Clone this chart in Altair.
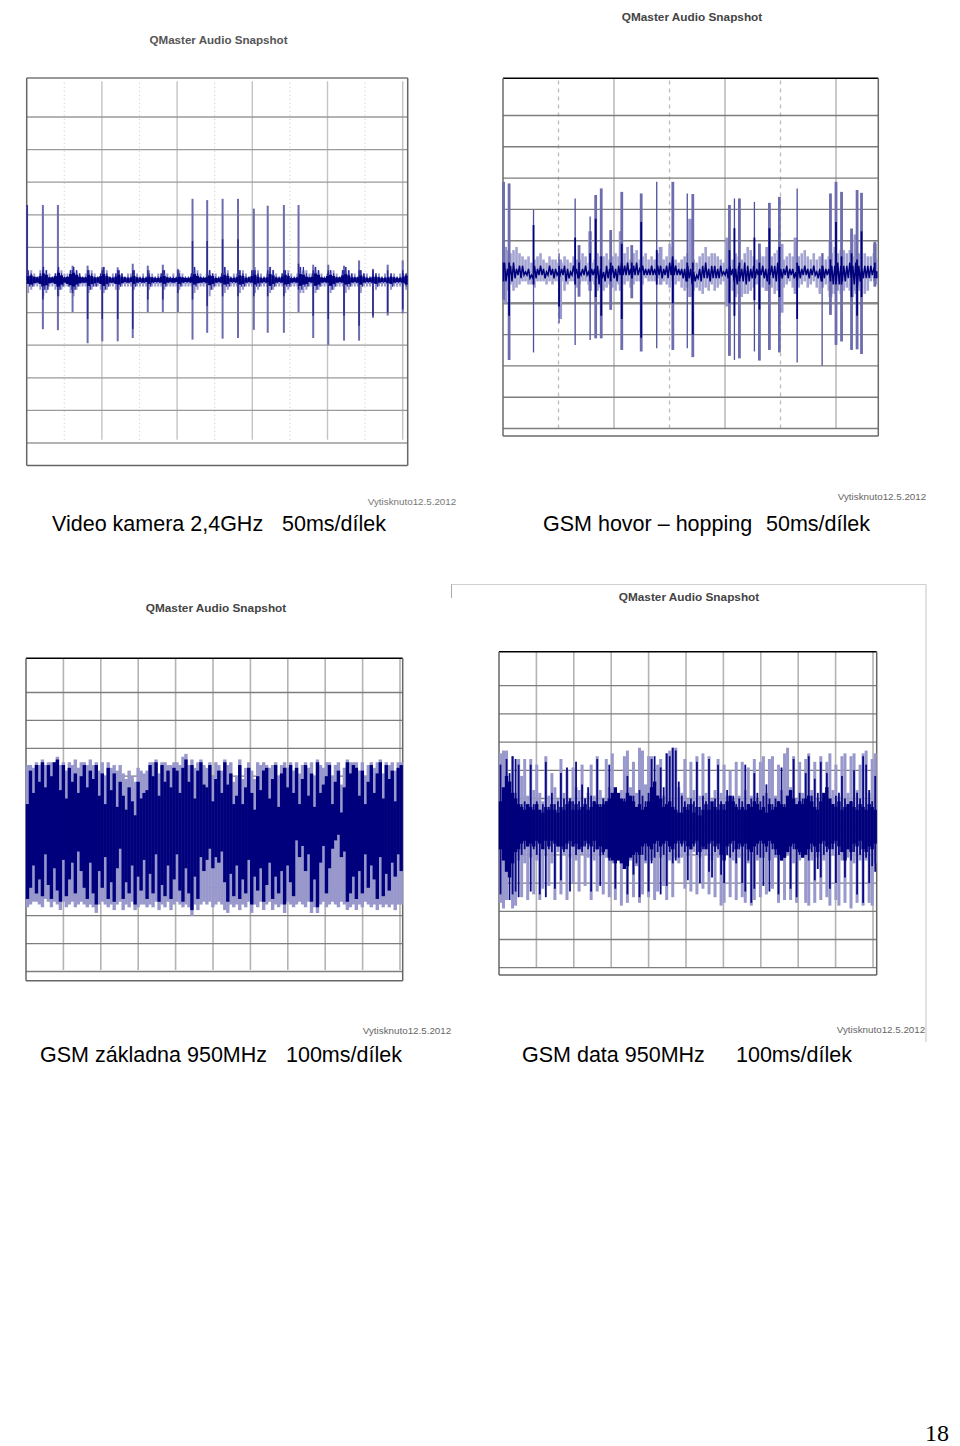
import altair as alt
import pandas as pd

GRID_H = "#8c8c8c"
GRID_V = "#c4c4c4"
LIGHT = "#9898cc"
MID = "#6c6cae"
DARK = "#00007c"

# ---------- Panel A: Video kamera ----------
A_spike_t = [0.01,0.43,0.83,1.22,1.62,2.01,2.42,2.82,3.22,3.62,4.02,4.41,4.80,5.21,5.62,6.04,6.41,6.84,7.23,7.62,8.02,8.44,8.84,9.21,9.60,10.0]
A_spike_hi = [23,23,23,4.4,4.4,3.9,3.9,5,4.4,4.7,3.4,24.9,24.5,24.9,24.9,21.9,22.8,23,23,4.7,4.7,4.4,6,3.4,4.7,6]
A_spike_lo = [0,-15.1,-15.4,-9.8,-19.4,-18.8,-18.8,-17.8,-9.8,-9.8,-9.8,-18.3,-16.2,-18,-17.8,-15.3,-16.2,-16.2,-9.8,-17.8,-19.9,-18.6,-18.6,-11.6,-10.9,-10.2]
A_core_hi = [23,3,3,3,3,3,3,3,3,3,3,12,12,12.5,12.5,3,3,3,5,3,3,3,3,3,3,3]
A_core_lo = [0,-6,-5,-4,-12,-12,-12,-15,-6,-6,-4,-6,-8,-5,-5,-5,-5,-5,-3,-11,-12,-11,-14,-11,-10,-9]
A_band_hi = [1.2,1.4,1.0,0.8,1.2,2.0,1.6,0.8,0.8,1.2,2.2,1.4,0.8,1.0,1.8,2.2,1.6,1.0,0.8,0.8,1.6,1.2,0.8,0.8,1.2,1.8,1.2,0.8,0.6,1.0,1.6,1.0,0.8,0.6,0.8,1.2,0.8,0.6,0.6,0.6,1.0,0.8,0.6,0.6,1.0,1.2,0.8,0.6,0.6,0.6,1.0,0.8,0.6,0.6,1.0,1.8,1.2,0.8,0.6,0.8,1.4,1.2,0.6,0.6,1.0,1.6,1.2,0.6,0.6,0.8,1.4,1.2,0.6,0.8,1.2,1.6,1.0,0.6,0.6,0.8,1.8,1.4,0.8,0.6,1.0,1.6,1.2,0.6,0.6,0.8,1.8,1.6,1.0,0.8,1.0,2.0,1.6,0.8,0.6,1.2,1.6,1.2,0.8,0.8,1.4,1.8,1.4,0.8,0.8,0.8,1.4,1.0,0.6,0.6,1.0,1.0,0.8,0.6,0.6,0.8,1.0,0.8,0.6,0.6,1.0,1.4]
A_band_lo = [-1.2,-1.4,-1.0,-0.8,-1.2,-1.8,-1.6,-1.0,-0.8,-1.2,-2.0,-1.4,-0.8,-1.2,-1.6,-2.0,-1.4,-1.0,-0.8,-0.8,-1.8,-1.2,-1.0,-0.8,-1.2,-1.8,-1.2,-0.8,-0.8,-1.2,-1.4,-1.0,-0.6,-0.8,-0.6,-1.2,-0.8,-0.6,-0.8,-0.6,-1.2,-0.8,-0.6,-0.6,-0.8,-1.2,-0.8,-0.6,-0.8,-0.6,-1.2,-0.8,-0.6,-0.6,-0.8,-1.4,-1.0,-0.8,-0.6,-0.8,-1.6,-1.2,-0.8,-0.6,-0.8,-1.4,-1.2,-0.6,-0.6,-0.8,-1.4,-1.2,-0.8,-0.6,-0.8,-1.4,-1.0,-0.8,-0.6,-0.8,-1.8,-1.2,-0.8,-0.6,-0.8,-1.4,-1.2,-0.8,-0.6,-0.8,-1.8,-1.4,-1.2,-0.6,-0.8,-1.8,-1.4,-0.8,-0.6,-0.8,-1.8,-1.2,-0.8,-0.6,-0.8,-1.4,-1.2,-0.8,-0.6,-0.8,-1.4,-0.8,-0.6,-0.6,-0.8,-1.2,-0.8,-0.6,-0.6,-0.8,-1.2,-0.8,-0.6,-0.6,-0.8,-1.4]
A_dark_hi = [3,2,1,1,2,4,3,1,1,2,4,2,1,1,3,4,3,2,1,1,3,2,1,1,2,4,2,1,1,2,3,2,1,1,1,3,1,1,1,1,2,1,1,1,2,3,1,1,1,1,2,1,1,1,2,4,2,1,1,1,3,2,1,1,2,4,2,1,1,1,3,2,1,1,3,3,2,1,1,1,4,3,1,1,2,3,2,1,1,1,4,4,2,1,2,4,3,1,1,2,3,2,1,1,3,4,3,2,1,1,3,2,1,1,2,2,1,1,1,1,2,1,1,1,2,2]
A_dark_lo = [-2,-2,-1,-1,-2,-3,-3,-1,-1,-2,-3,-2,-1,-2,-3,-3,-2,-1,-1,-1,-3,-2,-2,-1,-2,-3,-2,-1,-1,-2,-2,-1,-1,-1,-1,-2,-1,-1,-1,-1,-2,-1,-1,-1,-1,-2,-1,-1,-1,-1,-2,-1,-1,-1,-1,-2,-1,-1,-1,-1,-3,-2,-1,-1,-1,-2,-2,-1,-1,-1,-2,-2,-1,-1,-1,-2,-2,-1,-1,-1,-3,-2,-1,-1,-1,-2,-2,-1,-1,-1,-3,-2,-2,-1,-1,-3,-2,-1,-1,-1,-3,-2,-1,-1,-1,-2,-2,-1,-1,-1,-2,-1,-1,-1,-1,-2,-1,-1,-1,-1,-2,-1,-1,-1,-1,-2]
A_light_hi = [3,3,2,1,3,4,3,2,1,2,4,3,2,2,3,4,3,2,1,2,3,3,2,1,2,4,3,1,2,2,3,2,1,2,2,3,2,1,2,1,3,2,1,2,2,3,2,1,2,1,3,2,1,1,2,4,3,2,1,2,3,2,2,1,2,4,3,1,2,2,3,3,2,1,3,4,3,2,1,2,4,3,2,1,2,3,3,2,1,2,4,3,3,2,2,4,3,2,1,2,3,3,2,1,3,4,3,2,2,1,3,2,2,1,2,2,2,1,2,1,2,2,1,2,2,2]
A_light_lo = [-4,-3,-2,-2,-3,-5,-4,-2,-2,-3,-5,-3,-2,-2,-4,-5,-3,-2,-2,-2,-4,-3,-2,-2,-3,-4,-3,-2,-2,-3,-3,-2,-2,-2,-2,-3,-2,-2,-2,-2,-3,-2,-2,-2,-2,-3,-2,-2,-2,-2,-3,-2,-2,-2,-2,-4,-3,-2,-2,-2,-5,-3,-2,-2,-2,-4,-3,-2,-2,-2,-4,-3,-2,-2,-2,-4,-3,-2,-2,-2,-4,-3,-2,-2,-2,-4,-3,-2,-2,-2,-4,-4,-3,-2,-2,-4,-3,-2,-2,-2,-4,-3,-2,-2,-2,-4,-3,-2,-2,-2,-4,-2,-2,-2,-2,-3,-2,-2,-2,-2,-3,-2,-2,-2,-2,-3]

# ---------- Panel B: GSM hovor ----------
B_spike_t = [0.01,0.11,0.55,1.01,1.30,1.37,1.57,1.67,1.77,1.94,2.14,2.32,2.49,2.77,3.06,3.32,3.42,4.08,4.17,4.26,4.53,4.62,4.80,4.98,5.30,5.75,5.90,6.00,6.10,6.28,6.38,6.46,6.70]
B_spike_hi = [28.8,28.3,19.8,6,23.5,8.6,17.7,24.6,26.7,13.4,25.6,8.6,25.1,28.8,28.8,25.1,24.9,21.4,23.5,23.5,22.4,9.1,22.1,24,26.7,6,25.1,28.8,25.6,13.9,26.2,25.3,9.7]
B_spike_lo = [-8.9,-28.1,-25.7,-16.4,-23.3,-7.9,-21.7,-21.2,-21.2,-12.1,-24.9,-8.4,-25.4,-24.4,-24.9,-24.4,-27.2,-26.8,-28.1,-27.6,-25.4,-28.3,-24.9,-25.7,-28.9,-29.9,-13.7,-23.3,-22.2,-24.9,-24.7,-26.2,-4.7]
B_spike_wide = [1,1,0,0,0,1,0,1,1,1,1,1,1,0,1,0,1,1,0,1,0,1,1,1,0,0,1,1,1,1,1,1,1]
B_core_hi = [3,3,15,2,11,3,6,17,5,3,9,3,16,7,2,3,3,7,14,3,11,3,14,8,3,2,4,16,5,6,4,13,3]
B_core_lo = [-3,-14,-4,-11,-4,-2,-3,-8,-14,-3,-15,-2,-21,-4,-10,-3,-20,-10,-14,-3,-9,-12,-4,-8,-15,-3,-3,-4,-4,-8,-14,-8,-2]
B_burst_t = [0.04,1.03,1.57,2.12,2.84,3.37,4.04,4.76,5.02,5.27,5.90,6.35,6.70]
B_burst_hi = [8,4,13,13,8,17,11,8,9,11,10,12,9]
B_burst_lo = [-10,-15,-6,-6,-4,-8,-11,-6,-13,-7,-8,-6,-3]
B_light_hi = [8,7,6,7,8,6,5,4,5,3, 4,5,6,4,3,5,4,4,3,3, 5,4,3,5,4,4,6,5,3,3, 4,6,5,5,6,4,5,6,5,7, 6,8,4,6,7,4,5,6,4,5, 4,6,5,4,5,9,8,4,3,4, 5,6,5,4,3,5,6,8,5,6, 6,5,4,3,5,6,4,6,5,4, 6,8,7,5,4,6,5,5,4,5, 6,7,6,4,5,6,5,4,5,6, 7,5,4,6,4,5,6,4,5,6, 8,6,7,7,6,7,5,6,6,5, 6,5,5,6,4]
B_light_lo = [-7,-6,-4,-6,-5,-4,-3,-3,-4,-4, -5,-3,-3,-3,-4,-3,-4,-3,-3,-3, -6,-4,-3,-3,-5,-4,-3,-3,-4,-3, -4,-6,-5,-6,-5,-4,-5,-6,-4,-3, -4,-3,-5,-4,-3,-3,-4,-2,-3,-3, -3,-2,-4,-3,-4,-5,-3,-4,-3,-5, -6,-5,-7,-6,-5,-6,-7,-5,-6,-4, -6,-5,-4,-3,-4,-5,-6,-8,-7,-8, -7,-7,-6,-5,-4,-3,-5,-6,-4,-5, -7,-6,-6,-5,-4,-3,-5,-6,-5,-4, -3,-5,-4,-3,-5,-7,-5,-4,-6,-7, -7,-6,-7,-6,-5,-6,-8,-7,-6,-5, -7,-6,-3,-2,-4]
B_dark_hi = [3,1,2,3,1,2,2,0,1,-1, 2,1,2,1,0,2,1,1,0,1, 2,1,0,2,1,0,1,2,0,1, 1,2,1,0,2,1,2,1,2,3, 2,3,1,2,3,1,2,1,1,2, 1,2,2,1,2,3,5,2,1,1, 1,2,1,0,-1,1,2,3,1,2, 2,1,2,0,1,2,1,1,2,1, 3,2,1,2,1,1,2,1,1,2, 2,3,1,1,2,1,1,0,2,1, 2,1,1,2,0,1,2,1,1,2, 2,3,2,2,2,3,2,3,2,1, 2,2,2,1,0]
B_dark_lo = [-3,-2,-3,-2,-1,-2,-1,-1,-2,-2, -2,-1,-1,-2,-1,-1,-2,-1,-1,-1, -3,-2,-1,-1,-2,-1,-1,-1,-2,-1, -2,-4,-2,-3,-2,-1,-2,-3,-1,-1, -1,-1,-2,-1,-1,0,-1,-1,-1,-1, -1,-1,-2,-1,-2,-1,-1,-1,-1,-2, -3,-2,-4,-3,-2,-3,-2,-2,-3,-2, -2,-2,-1,-1,-2,-1,-3,-4,-2,-3, -4,-3,-2,-2,-1,-1,-2,-3,-1,-2, -3,-3,-2,-1,-2,-1,-2,-3,-2,-1, -1,-2,-1,-1,-2,-3,-2,-1,-2,-4, -3,-4,-3,-3,-2,-2,-4,-5,-3,-2, -2,-2,-1,0,-2]

# ---------- Panel C: GSM zakladna ----------
C_dark_hi = [10,22,14,24,18,25,16,24,20,25, 26,15,24,12,23,18,21,14,20,24, 16,22,19,24,13,21,10,23,15,21, 9,18,13,8,16,11,6,18,12,14, 15,24,20,25,13,24,18,22,16,23, 22,14,23,26,18,24,12,22,25,17, 16,24,11,19,22,14,25,17,21,10, 13,24,10,16,23,14,8,20,15,22, 23,12,19,24,9,21,23,16,24,14, 23,10,19,24,13,21,9,25,14,17, 20,24,10,18,22,7,16,25,21,24, 23,13,22,10,18,24,14,21,25,12, 24,19,22,11,23,24]
C_light_hi = [24,24,23,25,24,26,24,25,25,25, 27,24,25,22,25,24,26,23,25,25, 24,26,24,25,22,25,20,25,23,24, 22,24,21,19,22,20,18,23,22,21, 22,25,25,26,21,25,25,24,24,25, 25,24,27,28,24,26,23,25,26,24, 23,25,20,25,24,22,26,24,25,18, 20,26,19,23,25,22,19,25,24,25, 24,23,24,25,20,24,25,23,25,22, 25,21,24,25,23,25,20,26,24,23, 25,25,20,24,25,17,23,26,25,25, 25,22,25,20,24,25,23,25,26,21, 25,24,25,22,25,25]
C_dark_lo = [-24,-20,-12,-22,-17,-23,-8,-19,-24,-13, -21,-25,-10,-23,-17,-11,-22,-7,-14,-20, -24,-11,-22,-26,-14,-20,-9,-24,-18,-25, -13,-6,-24,-18,-22,-12,-26,-16,-21,-10, -24,-15,-22,-8,-25,-19,-23,-12,-24,-17, -8,-21,-25,-13,-22,-28,-16,-24,-9,-14, -10,-6,-13,-9,-11,-7,-18,-25,-15,-23, -12,-24,-17,-22,-10,-26,-16,-21,-13,-25, -19,-11,-24,-16,-22,-14,-26,-12,-18,-23, -3,-9,-5,-14,-8,-25,-17,-27,-11,-5, -22,-13,-6,-3,-1,-9,-7,-25,-22,-16, -24,-14,-22,-8,-20,-12,-17,-24,-9,-23, -15,-21,-11,-16,-8,-14]
C_light_lo = [-27,-26,-25,-25,-26,-27,-24,-25,-27,-25, -26,-28,-25,-27,-26,-25,-27,-26,-25,-26, -27,-26,-27,-29,-26,-25,-26,-27,-26,-28, -26,-25,-28,-26,-27,-25,-28,-27,-26,-26, -27,-26,-27,-25,-28,-26,-27,-25,-28,-26, -25,-26,-27,-26,-27,-30,-26,-28,-26,-25, -26,-25,-27,-26,-25,-26,-28,-29,-26,-27, -26,-28,-26,-27,-25,-29,-26,-27,-25,-28, -26,-25,-28,-26,-27,-26,-29,-25,-26,-27, -26,-25,-26,-27,-25,-29,-27,-29,-26,-25, -27,-26,-25,-26,-27,-25,-26,-28,-27,-26, -28,-26,-27,-25,-26,-27,-26,-28,-26,-27, -26,-27,-26,-28,-26,-26]

# ---------- Panel D: GSM data ----------
D_dark_hi = [22,7,24,19,25,24,22,8,9,7, 22,8,9,6,8,23,7,12,8,9, 19,10,21,10,9,23,9,15,10,14, 11,9,24,8,10,9,22,10,11,8, 9,10,18,8,11,7,13,11,9,12, 24,25,11,21,14,26,25,28,27,16, 11,9,8,10,9,23,7,11,9,24, 8,10,22,9,8,13,9,11,8,10, 9,22,8,10,19,12,9,11,15,10, 8,10,9,21,8,10,9,24,8,12, 10,19,25,11,17,12,23,10,19,9, 8,11,12,18,10,8,9,20,12,10, 25,22,13,9,18]
D_light_hi = [26,27,27,16,25,12,24,18,24,11, 24,13,22,12,9,25,11,19,14,10, 24,12,20,10,21,14,13,22,10,12, 22,11,25,13,10,24,14,26,12,10, 13,25,27,14,23,12,28,27,15,25, 25,13,22,24,11,26,27,28,28,14, 12,24,10,23,13,25,11,26,12,25, 10,13,24,12,22,11,20,10,23,11, 23,13,21,11,24,10,23,25,12,24, 25,11,22,13,26,28,14,25,10,23, 12,24,26,13,23,10,25,12,23,26, 13,22,11,25,26,12,25,26,13,22, 26,27,12,24,26]
D_dark_lo = [-24,-9,-7,-26,-24,-23,-25,-10,-8,-7, -23,-8,-10,-24,-7,-25,-8,-9,-22,-7, -19,-9,-8,-23,-7,-10,-8,-9,-7,-8, -23,-9,-8,-21,-10,-7,-12,-9,-22,-8, -10,-11,-24,-9,-17,-13,-25,-10,-12,-23, -13,-11,-9,-24,-10,-21,-9,-13,-12,-11, -7,-9,-19,-8,-7,-10,-20,-8,-7,-16, -18,-9,-8,-17,-20,-10,-11,-9,-13,-8, -20,-23,-12,-27,-22,-10,-11,-21,-9,-23, -8,-10,-24,-8,-11,-9,-22,-8,-25,-10, -9,-8,-12,-9,-19,-15,-18,-10,-9,-22, -8,-20,-10,-9,-18,-8,-12,-9,-24,-10, -27,-11,-20,-14,-16]
D_light_lo = [-27,-29,-26,-13,-29,-28,-12,-25,-13,-26, -11,-24,-12,-26,-22,-10,-21,-13,-26,-9, -24,-10,-26,-11,-20,-12,-23,-10,-21,-11, -26,-12,-23,-10,-24,-11,-25,-13,-26,-12, -28,-13,-27,-12,-25,-14,-27,-24,-13,-25, -12,-26,-23,-11,-21,-26,-12,-25,-11,-13, -11,-22,-10,-23,-9,-24,-11,-22,-10,-24, -12,-25,-11,-28,-27,-10,-25,-12,-26,-11, -25,-27,-13,-28,-26,-12,-25,-11,-24,-12, -22,-11,-27,-12,-26,-10,-26,-13,-27,-12, -11,-27,-28,-12,-27,-11,-26,-12,-25,-28, -10,-26,-28,-12,-27,-11,-29,-13,-27,-12, -28,-12,-27,-28,-13]
D_core_hi = [9,14,18,16,12,10,8,7,6,8, 7,6,8,6,5,7,6,8,6,5, 7,6,8,9,6,8,6,7,8,6, 7,9,8,7,8,9,10,12,14,12, 10,9,12,11,9,7,8,6,7,9, 14,16,11,10,7,8,9,7,6,5, 5,7,6,8,5,7,4,6,8,6, 9,7,6,8,6,9,11,9,7,6, 7,6,8,7,9,8,6,7,5,8, 6,7,9,8,7,11,13,10,8,9, 8,10,11,9,7,6,9,12,14,10, 8,7,9,6,7,8,9,7,6,8, 7,6,8,7,6]
D_core_lo = [-8,-12,-16,-18,-13,-9,-8,-6,-5,-7, -6,-7,-5,-6,-8,-5,-7,-5,-6,-7, -7,-8,-6,-5,-7,-6,-8,-7,-5,-6, -7,-5,-8,-7,-9,-8,-11,-12,-13,-12, -13,-15,-14,-11,-10,-9,-10,-7,-6,-7, -8,-6,-5,-7,-6,-5,-7,-8,-6,-5, -6,-5,-7,-8,-6,-5,-9,-7,-8,-6, -5,-7,-6,-10,-12,-7,-6,-5,-8,-6, -7,-6,-8,-9,-7,-6,-5,-6,-7,-5, -6,-8,-10,-12,-11,-9,-7,-6,-8,-9, -11,-10,-8,-6,-7,-9,-6,-5,-7,-8, -6,-5,-7,-9,-12,-8,-9,-6,-7,-5, -8,-9,-7,-8,-6]

# ---------- grids, in divisions ----------
H_A = [5,4,3,2,1,0,-1,-2,-3,-4,-5]
H_B = [5,4,3,2,1,0,-1,-2,-3,-4,-5]
H_C = [5,4,3,2,1,0,-1,-2,-3,-4,-5]
H_D = [5,4,3,2,1,0,-1,-2,-3,-4,-5]
V_A_SOLID = [2,4,6,8,10]
V_A_DOT = [1,3,5,7,9]
V_B_SOLID = [2,4,6]
V_B_DOT = [1,3,5]
V_C_SOLID = [1,2,3,4,5,6,7,8,9,10]
V_D_SOLID = [1,2,3,4,5,6,7,8,9,10]

CAPTIONS = ["Video kamera 2,4GHz", "50ms/dílek", "GSM hovor – hopping", "50ms/dílek",
            "GSM základna 950MHz", "100ms/dílek", "GSM data 950MHz", "100ms/dílek"]
TITLE = "QMaster Audio Snapshot"
PRINTED = "Vytisknuto12.5.2012"
PAGE = "18"

M = 8  # page margin
NARROW = "DejaVu Sans Condensed"


class Panel:
    def __init__(self, x0, x1, ytop, ybot, cy, dx, dy):
        self.x0, self.x1, self.ytop, self.ybot = x0, x1, ytop, ybot
        self.cy, self.dx, self.dy = cy, dx, dy

    def xs(self):
        return alt.Scale(domain=[0, (self.x1 - self.x0) / self.dx],
                         range=[self.x0 - M, self.x1 - M], nice=False, zero=False)

    def ys(self):
        return alt.Scale(domain=[(self.cy - self.ybot) / self.dy, (self.cy - self.ytop) / self.dy],
                         range=[self.ybot - M, self.ytop - M], nice=False, zero=False)

    def xi(self, n):
        return alt.Scale(domain=[0, n - 1], range=[self.x0 - M + 1.5, self.x1 - M - 1.5], nice=False, zero=False)

    def hrules(self, values, color, width, **kw):
        df = pd.DataFrame({"y": values, "a": 0.0, "b": (self.x1 - self.x0) / self.dx})
        return alt.Chart(df).mark_rule(color=color, strokeWidth=width, **kw).encode(
            x=alt.X("a:Q", scale=self.xs(), axis=None), x2="b:Q",
            y=alt.Y("y:Q", scale=self.ys(), axis=None))

    def vrules(self, values, color, width, lo, hi, **kw):
        df = pd.DataFrame({"x": values, "lo": lo, "hi": hi})
        return alt.Chart(df).mark_rule(color=color, strokeWidth=width, **kw).encode(
            x=alt.X("x:Q", scale=self.xs(), axis=None),
            y=alt.Y("lo:Q", scale=self.ys(), axis=None), y2="hi:Q")

    def columns(self, hi, lo, color, width):
        rows = [(i, h / 10, l / 10) for i, (h, l) in enumerate(zip(hi, lo))]
        df = pd.DataFrame(rows, columns=["i", "hi", "lo"])
        return alt.Chart(df).mark_rule(color=color, strokeWidth=width).encode(
            x=alt.X("i:Q", scale=self.xi(len(rows)), axis=None),
            y=alt.Y("lo:Q", scale=self.ys(), axis=None), y2="hi:Q")

    def zigzag(self, hi, lo, color, width):
        rows = []
        for i, (h, l) in enumerate(zip(hi, lo)):
            rows.append((i, h / 10, 2 * i))
            rows.append((min(i + 0.5, len(hi) - 1), l / 10, 2 * i + 1))
        df = pd.DataFrame(rows, columns=["i", "v", "o"])
        return alt.Chart(df).mark_line(color=color, strokeWidth=width).encode(
            x=alt.X("i:Q", scale=self.xi(len(hi)), axis=None),
            y=alt.Y("v:Q", scale=self.ys(), axis=None),
            order="o:Q")

    def spikes(self, t, hi, lo, color, width):
        df = pd.DataFrame({"t": t, "hi": [v / 10 for v in hi], "lo": [v / 10 for v in lo]})
        return alt.Chart(df).mark_rule(color=color, strokeWidth=width).encode(
            x=alt.X("t:Q", scale=self.xs(), axis=None),
            y=alt.Y("lo:Q", scale=self.ys(), axis=None), y2="hi:Q")

    def frame(self, top_color, color, width=1.5):
        h = (self.x1 - self.x0) / self.dx
        t = (self.cy - self.ytop) / self.dy
        b = (self.cy - self.ybot) / self.dy
        return [
            self.hrules([t], top_color, width),
            self.hrules([b], color, width),
            self.vrules([0], color, width, b, t),
            self.vrules([h], color, width, b, t),
        ]


def label(text, x, y, size, font="Liberation Sans", color="#000000", weight="normal", align="left"):
    return alt.Chart(pd.DataFrame({"a": [0]})).mark_text(
        text=text, font=font, fontSize=size, color=color, fontWeight=weight, align=align, baseline="alphabetic"
    ).encode(x=alt.value(x - M), y=alt.value(y - M))


layers = []

# Panel A
A = Panel(26.7, 407.7, 78, 465.5, 280, 37.6, 32.6)
layers += [
    A.vrules(V_A_SOLID, GRID_V, 1.4, -4.9, 6.1),
    A.vrules(V_A_DOT, "#cfcfcf", 1.2, -4.9, 6.1, strokeDash=[1, 3]),
    A.hrules(H_A, "#9a9a9a", 1.3),
]
layers += A.frame("#777777", "#666666")
layers += [
    A.columns(A_light_hi, A_light_lo, LIGHT, 2.0),
    A.spikes(A_spike_t, A_spike_hi, A_spike_lo, MID, 2.0),
    A.spikes(A_spike_t, A_core_hi, A_core_lo, "#2a2a8e", 1.5),
    A.zigzag(A_dark_hi, A_dark_lo, "#2222a0", 0.9),
    A.columns(A_band_hi, A_band_lo, DARK, 3.1),
]

# Panel B
B = Panel(503, 878.3, 78.3, 436, 272, 55.5, 31.3)
wide = [i for i, w in enumerate(B_spike_wide) if w]
thin = [i for i, w in enumerate(B_spike_wide) if not w]
pick = lambda arr, idx: [arr[i] for i in idx]
layers += [
    B.vrules(V_B_SOLID, GRID_V, 1.8, -5.0, 6.2),
    B.vrules(V_B_DOT, "#bdbdbd", 1.3, -5.0, 6.2, strokeDash=[4, 4]),
    B.hrules(H_B, "#7d7d7d", 1.4),
    B.hrules([-1], "#8a8a8a", 2.6),
]
layers += B.frame("#000000", "#6a6a6a")
layers += [
    B.columns(B_light_hi, B_light_lo, "#a4a4d2", 2.6),
    B.spikes(B_burst_t, B_burst_hi, B_burst_lo, LIGHT, 3.8),
    B.spikes(pick(B_spike_t, wide), pick(B_spike_hi, wide), pick(B_spike_lo, wide), MID, 2.8),
    B.spikes(pick(B_spike_t, thin), pick(B_spike_hi, thin), pick(B_spike_lo, thin), "#4f4f9e", 1.3),
    B.spikes(B_spike_t, B_core_hi, B_core_lo, DARK, 1.8),
    B.zigzag(B_dark_hi, B_dark_lo, DARK, 1.5),
]

# Panel C
C = Panel(26, 402.7, 658.3, 980.7, 832, 37.4, 27.9)
layers += [
    C.vrules(V_C_SOLID, "#b4b4b4", 1.6, -4.95, 6.2),
    C.hrules(H_C, "#7d7d7d", 1.3),
]
layers += C.frame("#000000", "#666666")
layers += [
    C.columns(C_light_hi, C_light_lo, LIGHT, 3.4),
    C.columns(C_dark_hi, C_dark_lo, DARK, 3.4),
]

# Panel D
D = Panel(499, 876.7, 651.7, 975, 826.7, 37.4, 28.2)
layers += [
    D.vrules(V_D_SOLID, "#b4b4b4", 1.6, -5.0, 6.2),
    D.hrules(H_D, "#7d7d7d", 1.3),
]
layers += D.frame("#000000", "#666666")
layers += [
    D.columns(D_light_hi, D_light_lo, LIGHT, 3.0),
    D.columns(D_dark_hi, D_dark_lo, "#0a0a84", 1.8),
    D.columns(D_core_hi, D_core_lo, DARK, 3.4),
]

# thin sheet outline around lower right panel
line_color = "#cfcfcf"
one = pd.DataFrame({"a": [0]})
layers += [
    alt.Chart(one).mark_rule(color=line_color, strokeWidth=1.2).encode(
        x=alt.value(451 - M), x2=alt.value(926 - M), y=alt.value(584.5 - M)),
    alt.Chart(one).mark_rule(color=line_color, strokeWidth=1.2).encode(
        x=alt.value(926 - M), y=alt.value(584.5 - M), y2=alt.value(1042 - M)),
    alt.Chart(one).mark_rule(color="#aaaaaa", strokeWidth=1).encode(
        x=alt.value(451.5 - M), y=alt.value(584.5 - M), y2=alt.value(598 - M)),
]

# texts
layers += [
    label(TITLE, 218.5, 44, 11.6, color="#555555", weight="bold", align="center"),
    label(TITLE, 692, 21, 11.8, color="#444444", weight="bold", align="center"),
    label(TITLE, 216, 612, 11.8, color="#444444", weight="bold", align="center"),
    label(TITLE, 689, 601, 11.8, color="#444444", weight="bold", align="center"),
    label(PRINTED, 412, 505, 9.8, color="#777777", align="center"),
    label(PRINTED, 882, 500, 9.8, color="#666666", align="center"),
    label(PRINTED, 407, 1034, 9.8, color="#666666", align="center"),
    label(PRINTED, 881, 1033, 9.8, color="#666666", align="center"),
    label(CAPTIONS[0], 52, 531, 21.5),
    label(CAPTIONS[1], 282, 531, 21.5),
    label(CAPTIONS[2], 543, 531, 21.5),
    label(CAPTIONS[3], 766, 531, 21.5),
    label(CAPTIONS[4], 40, 1062, 21.5),
    label(CAPTIONS[5], 286, 1062, 21.5),
    label(CAPTIONS[6], 522, 1062, 21.5),
    label(CAPTIONS[7], 736, 1062, 21.5),
    label(PAGE, 949, 1441, 24, font="Liberation Serif", align="right"),
]

chart = (
    alt.layer(*layers)
    .resolve_scale(x="independent", y="independent")
    .properties(width=944, height=1436, padding=0, background="#ffffff",
                autosize=alt.AutoSizeParams(type="none"))
    .configure_view(stroke=None)
)

chart.save("out.html", embed_options={"renderer": "svg", "actions": False})
